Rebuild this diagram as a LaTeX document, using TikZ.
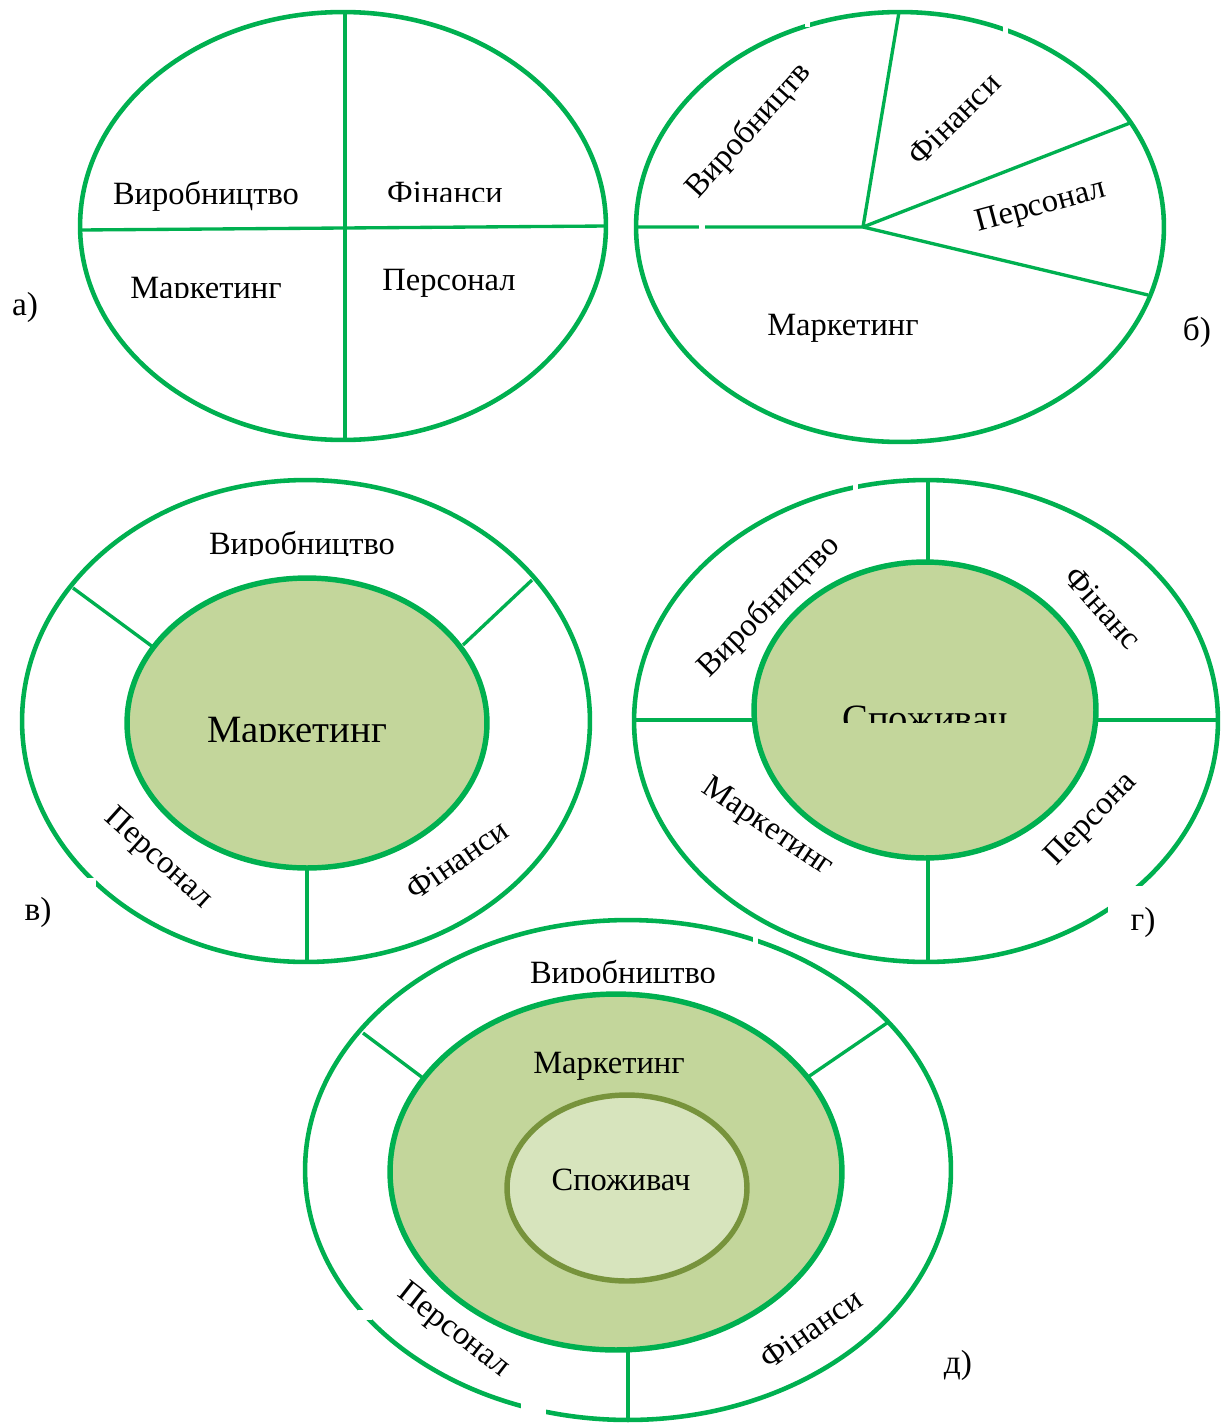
\documentclass[tikz,border=0pt]{standalone}
\usepackage{fontspec}
\setmainfont{Liberation Serif}
\definecolor{ringgreen}{HTML}{00B050}
\definecolor{corefill}{HTML}{C3D69B}
\definecolor{heartfill}{HTML}{D7E4BD}
\definecolor{heartline}{HTML}{77933C}

\begin{document}
\begin{tikzpicture}[
    x=0.02cm, y=-0.02cm,
    ring/.style={draw=ringgreen, line width=2.6pt},
    divider/.style={draw=ringgreen, line width=1.9pt},
    core/.style={draw=ringgreen, line width=3.1pt, fill=corefill},
    heart/.style={draw=heartline, line width=3.1pt, fill=heartfill},
    lbl/.style={font=\fontsize{18.5}{22}\selectfont, inner sep=0pt},
    biglbl/.style={font=\fontsize{22}{26}\selectfont, inner sep=0pt},
    tag/.style={font=\fontsize{19}{22}\selectfont, inner sep=0pt, anchor=base},
    gapfill/.style={fill=white}
]
  \useasboundingbox (0,0) rectangle (1222,1423);

  % а) four quarters
  \draw[ring] (343,226) ellipse [x radius=5.26cm, y radius=4.28cm];
  \draw[divider] (80,230) -- (607,226);
  \draw[divider] (345,12) -- (345,440);
  \node[lbl, anchor=base] (a-prod) at (206,204) {Виробництво};
  \begin{scope}
    \clip (380,170) rectangle (520,201);
    \node[lbl, anchor=base] (a-fin) at (445,203) {Фінанси};
  \end{scope}
  \begin{scope}
    \clip (120,260) rectangle (300,297);
    \node[lbl, anchor=base] (a-mkt) at (206,298) {Маркетинг};
  \end{scope}
  \node[lbl, anchor=base] (a-pers) at (449,290) {Персонал};
  \node[tag] (a-tag) at (25,315) {а)};

  % б) unequal sectors
  \draw[ring] (900,227) ellipse [x radius=5.28cm, y radius=4.30cm];
  \coordinate (b-hub) at (863,227);
  \draw[divider] (636,227) -- (b-hub) -- (899,12);
  \draw[divider] (b-hub) -- (1130,123);
  \draw[divider] (b-hub) -- (1148,295);
  \fill[gapfill] (699,221) rectangle (705,233);
  \fill[gapfill] (805,16) rectangle (810,27);
  \fill[gapfill] (1003,26) rectangle (1008,38);
  \node[lbl, rotate=48] (b-prod) at (749,131) {Виробництв};
  \node[lbl, rotate=45] (b-fin) at (954,119) {Фінанси};
  \node[lbl, rotate=15] (b-pers) at (1041,207) {Персонал};
  \node[lbl, anchor=base] (b-mkt) at (843,335) {Маркетинг};
  \node[tag] (b-tag) at (1197,340) {б)};

  % в) marketing in the centre
  \draw[ring] (306,721) ellipse [x radius=5.68cm, y radius=4.82cm];
  \draw[divider] (73,588) -- (153,647);
  \draw[divider] (532,580) -- (463,645);
  \draw[divider] (307,868) -- (307,962);
  \draw[core] (307,723) ellipse [x radius=3.60cm, y radius=2.90cm];
  \fill[gapfill] (80,878) rectangle (96,892);
  \begin{scope}
    \clip (200,520) rectangle (400,555);
    \node[lbl, anchor=base] (c-prod) at (302,554) {Виробництво};
  \end{scope}
  \begin{scope}
    \clip (200,700) rectangle (400,741);
    \node[biglbl, anchor=base] (c-mkt) at (297,742) {Маркетинг};
  \end{scope}
  \node[lbl, rotate=-42] (c-pers) at (158,859) {Персонал};
  \node[lbl, rotate=35] (c-fin) at (457,860) {Фінанси};
  \node[tag] (c-tag) at (38,920) {в)};

  % г) consumer in the centre
  \draw[ring] (926,721) ellipse [x radius=5.84cm, y radius=4.82cm];
  \draw[divider] (928,480) -- (928,562);
  \draw[divider] (634,720) -- (755,720);
  \draw[divider] (1096,720) -- (1218,720);
  \draw[divider] (928,858) -- (928,962);
  \draw[core] (925,710) ellipse [x radius=3.42cm, y radius=2.96cm];
  \fill[gapfill] (853,482) rectangle (858,495);
  \begin{scope}
    \clip (830,690) rectangle (1020,722);
    \node[biglbl, anchor=base] (d-cons) at (925,731) {Споживач};
  \end{scope}
  \node[lbl, rotate=45] (d-prod) at (769,607) {Виробництво};
  \node[lbl, rotate=-48] (d-fin) at (1103,608) {Фінанс};
  \node[lbl, rotate=-34] (d-mkt) at (767,828) {Маркетинг};
  \node[lbl, rotate=46] (d-pers) at (1092,820) {Персона};
  \fill[gapfill] (1108,886) rectangle (1170,945);
  \node[tag] (d-tag) at (1143,930) {г)};

  % д) consumer inside marketing
  \draw[ring] (628,1170) ellipse [x radius=6.46cm, y radius=5.00cm];
  \draw[divider] (363,1033) -- (423,1078);
  \draw[divider] (887,1023) -- (808,1077);
  \draw[divider] (628,1350) -- (628,1420);
  \draw[core] (616,1172) ellipse [x radius=4.52cm, y radius=3.56cm];
  \draw[heart] (627,1188) ellipse [x radius=2.40cm, y radius=1.86cm];
  \fill[gapfill] (753,937) rectangle (758,948);
  \fill[gapfill] (358,1310) rectangle (372,1320);
  \fill[gapfill] (521,1400) rectangle (546,1423);
  \begin{scope}
    \clip (520,950) rectangle (730,982);
    \node[lbl, anchor=base] (e-prod) at (623,983) {Виробництво};
  \end{scope}
  \node[lbl, anchor=base] (e-mkt) at (609,1073) {Маркетинг};
  \node[lbl, anchor=base] (e-cons) at (621,1190) {Споживач};
  \node[lbl, rotate=-38] (e-pers) at (453,1331) {Персонал};
  \node[lbl, rotate=35] (e-fin) at (811,1329) {Фінанси};
  \node[tag] (e-tag) at (958,1373) {д)};
\end{tikzpicture}
\end{document}
